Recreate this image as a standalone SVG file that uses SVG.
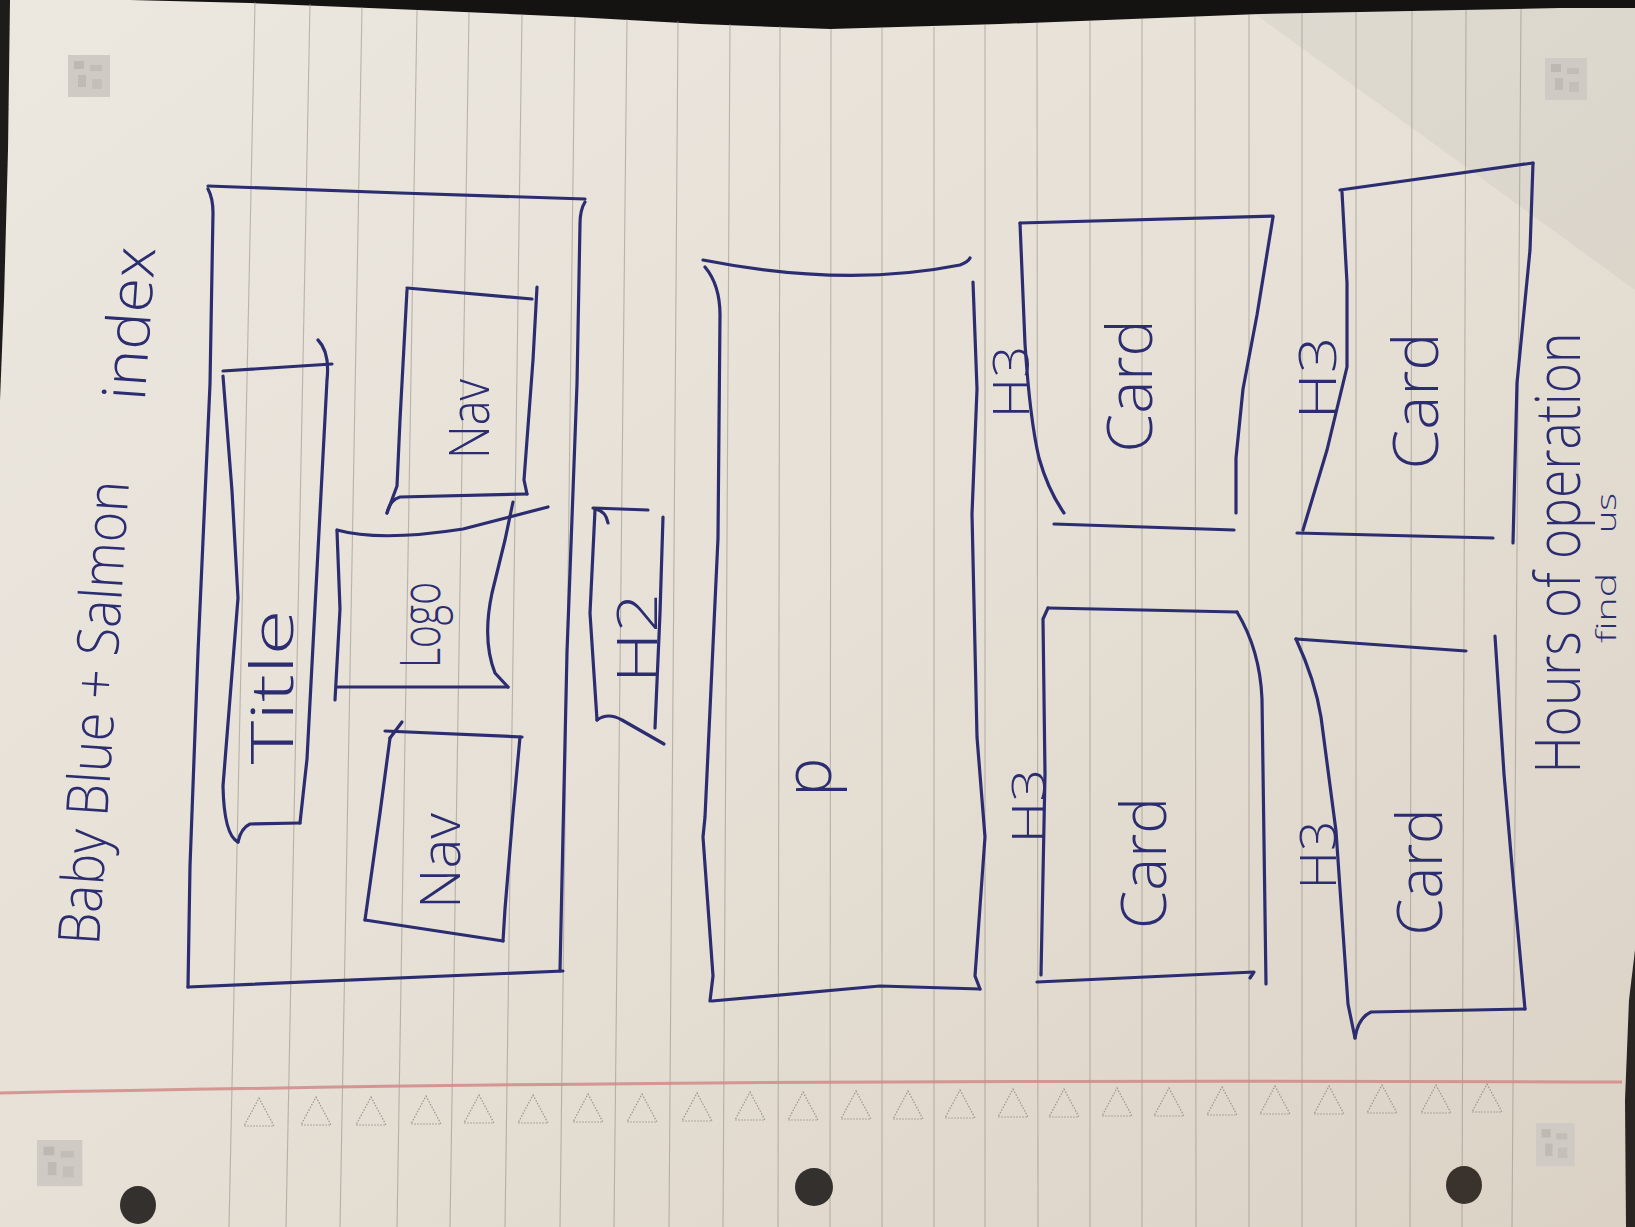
<svg xmlns="http://www.w3.org/2000/svg" width="1635" height="1227" viewBox="0 0 1635 1227">
<defs>
<linearGradient id="paper" x1="0" y1="0" x2="1" y2="1">
<stop offset="0" stop-color="#ece7df"/>
<stop offset="0.5" stop-color="#e6e0d6"/>
<stop offset="1" stop-color="#dbd2c5"/>
</linearGradient>
<g id="qr">
<rect x="0" y="0" width="42" height="42" fill="#cfcac4"/>
<rect x="6" y="6" width="10" height="8" fill="#bdb8b1"/>
<rect x="22" y="10" width="12" height="6" fill="#c2bdb6"/>
<rect x="10" y="20" width="8" height="12" fill="#bfbab3"/>
<rect x="24" y="24" width="10" height="10" fill="#c4bfb8"/>
</g>
</defs>
<style>
.rule{stroke:#8f8a84;stroke-width:1.1;opacity:0.55;fill:none}
.tri{fill:none;stroke:#9c968e;stroke-width:1.2;stroke-dasharray:1.5 1.5}
.ink{fill:none;stroke:#2b2d70;stroke-width:3.2;stroke-linecap:round;stroke-linejoin:round}
.hand{font-family:"Open Sans","DejaVu Sans",sans-serif;font-weight:300;fill:#2b2d70;text-anchor:middle}
</style>

<g id="paper-sheet">
<rect x="0" y="0" width="1635" height="1227" fill="url(#paper)"/>
<path d="M1255,14 L1635,5 L1635,290 Z" fill="#000" opacity="0.035"/>
<path d="M0,0 L1635,0 L1635,8 L1560,8 L1260,14 L1000,24 L830,29 L700,24 L575,17 L418,10 L250,3 L130,0 Z" fill="#141312"/>
<path d="M0,0 L10,0 L8,150 L4,300 L0,400 Z" fill="#1e1c1a"/>
<path d="M1635,950 L1629,1000 L1625,1100 L1626,1227 L1635,1227 Z" fill="#2a2522"/>
<g id="rules">
<line class="rule" x1="255" y1="2" x2="229" y2="1227"/>
<line class="rule" x1="310" y1="4" x2="286" y2="1227"/>
<line class="rule" x1="362" y1="7" x2="340" y2="1227"/>
<line class="rule" x1="417" y1="10" x2="397" y2="1227"/>
<line class="rule" x1="469" y1="12" x2="450" y2="1227"/>
<line class="rule" x1="522" y1="14" x2="505" y2="1227"/>
<line class="rule" x1="575" y1="17" x2="560" y2="1227"/>
<line class="rule" x1="627" y1="19" x2="614" y2="1227"/>
<line class="rule" x1="678" y1="21" x2="669" y2="1227"/>
<line class="rule" x1="730" y1="24" x2="723" y2="1227"/>
<line class="rule" x1="780" y1="26" x2="778" y2="1227"/>
<line class="rule" x1="831" y1="29" x2="830" y2="1227"/>
<line class="rule" x1="882" y1="28" x2="882" y2="1227"/>
<line class="rule" x1="934" y1="27" x2="934" y2="1227"/>
<line class="rule" x1="985" y1="25" x2="985" y2="1227"/>
<line class="rule" x1="1037" y1="23" x2="1038" y2="1227"/>
<line class="rule" x1="1090" y1="21" x2="1090" y2="1227"/>
<line class="rule" x1="1142" y1="19" x2="1142" y2="1227"/>
<line class="rule" x1="1195" y1="17" x2="1196" y2="1227"/>
<line class="rule" x1="1249" y1="15" x2="1249" y2="1227"/>
<line class="rule" x1="1302" y1="13" x2="1302" y2="1227"/>
<line class="rule" x1="1356" y1="12" x2="1356" y2="1227"/>
<line class="rule" x1="1412" y1="11" x2="1410" y2="1227"/>
<line class="rule" x1="1466" y1="10" x2="1462" y2="1227"/>
<line class="rule" x1="1521" y1="9" x2="1512" y2="1227"/>
</g>
<path d="M0,1093 C400,1085 800,1079 1622,1082" fill="none" stroke="#d08a86" stroke-width="3" opacity="0.85"/>
<g id="triangles">
<path class="tri" d="M259,1098 L274,1126 L244,1126 Z"/>
<path class="tri" d="M316,1097 L331,1125 L301,1125 Z"/>
<path class="tri" d="M371,1097 L386,1125 L356,1125 Z"/>
<path class="tri" d="M426,1096 L441,1124 L411,1124 Z"/>
<path class="tri" d="M479,1095 L494,1123 L464,1123 Z"/>
<path class="tri" d="M533,1095 L548,1123 L518,1123 Z"/>
<path class="tri" d="M588,1094 L603,1122 L573,1122 Z"/>
<path class="tri" d="M642,1094 L657,1122 L627,1122 Z"/>
<path class="tri" d="M697,1093 L712,1121 L682,1121 Z"/>
<path class="tri" d="M750,1092 L765,1120 L735,1120 Z"/>
<path class="tri" d="M803,1092 L818,1120 L788,1120 Z"/>
<path class="tri" d="M856,1091 L871,1119 L841,1119 Z"/>
<path class="tri" d="M908,1091 L923,1119 L893,1119 Z"/>
<path class="tri" d="M960,1090 L975,1118 L945,1118 Z"/>
<path class="tri" d="M1013,1089 L1028,1117 L998,1117 Z"/>
<path class="tri" d="M1064,1089 L1079,1117 L1049,1117 Z"/>
<path class="tri" d="M1117,1088 L1132,1116 L1102,1116 Z"/>
<path class="tri" d="M1169,1088 L1184,1116 L1154,1116 Z"/>
<path class="tri" d="M1222,1087 L1237,1115 L1207,1115 Z"/>
<path class="tri" d="M1275,1086 L1290,1114 L1260,1114 Z"/>
<path class="tri" d="M1329,1086 L1344,1114 L1314,1114 Z"/>
<path class="tri" d="M1382,1085 L1397,1113 L1367,1113 Z"/>
<path class="tri" d="M1436,1085 L1451,1113 L1421,1113 Z"/>
<path class="tri" d="M1487,1084 L1502,1112 L1472,1112 Z"/>
</g>
<use href="#qr" transform="translate(68,55)"/>
<use href="#qr" transform="translate(1545,58)"/>
<use href="#qr" transform="translate(37,1140) scale(1.08,1.1)"/>
<use href="#qr" transform="translate(1536,1123) scale(0.92,1.03)"/>
<g id="holes">
<ellipse cx="138" cy="1205" rx="18" ry="19" fill="#34302d"/>
<ellipse cx="814" cy="1187" rx="19" ry="19" fill="#34302d"/>
<ellipse cx="1464" cy="1185" rx="18" ry="19" fill="#3a322c"/>
</g>
</g>

<g id="page-title">
<text class="hand" font-size="58" textLength="465" lengthAdjust="spacingAndGlyphs" transform="translate(114,714) rotate(-86.3)">Baby Blue + Salmon</text>
<text class="hand" font-size="60" textLength="154" lengthAdjust="spacingAndGlyphs" transform="translate(150,325) rotate(-86)">index</text>
</g>

<g id="header">
<path class="ink" d="M208,186 L400,193 L585,199"/>
<path class="ink" d="M585,202 Q580,210 580,224 L577,384 L567,652 L560,971"/>
<path class="ink" d="M563,971 L188,987"/>
<path class="ink" d="M208,189 Q213,198 213,213 L210,384 L198,652 L190,866 L188,987"/>
</g>

<g id="title-box">
<path class="ink" d="M223,371 L332,364"/>
<path class="ink" d="M318,340 Q330,352 327,380 L307,759 L300,823"/>
<path class="ink" d="M300,823 L250,824 Q241,828 238,842"/>
<path class="ink" d="M223,376 L232,491 L238,598 L223,786 Q224,835 238,842"/>
<text class="hand" font-size="58" textLength="155" lengthAdjust="spacingAndGlyphs" transform="translate(293,687) rotate(-90)">Title</text>
</g>

<g id="nav-top">
<path class="ink" d="M407,288 L532,299"/>
<path class="ink" d="M537,287 L533,360 L524,480 L527,494"/>
<path class="ink" d="M527,494 L400,497 Q390,500 387,513"/>
<path class="ink" d="M407,290 L400,420 L397,486 L387,513"/>
<text class="hand" font-size="56" textLength="80" lengthAdjust="spacingAndGlyphs" transform="translate(489,419) rotate(-90)">Nav</text>
</g>

<g id="logo-box">
<path class="ink" d="M337,530 Q380,542 463,529 L548,507"/>
<path class="ink" d="M513,502 L505,540 L492,593 Q482,640 495,673 L508,687"/>
<path class="ink" d="M508,687 L338,687"/>
<path class="ink" d="M337,531 L340,609 L335,700"/>
<text class="hand" font-size="56" textLength="86" lengthAdjust="spacingAndGlyphs" transform="translate(440,625) rotate(-90)">Logo</text>
</g>

<g id="nav-bottom">
<path class="ink" d="M385,731 L522,737"/>
<path class="ink" d="M402,722 L390,738"/>
<path class="ink" d="M520,737 L513,813 L505,909 L503,941"/>
<path class="ink" d="M503,941 L365,920"/>
<path class="ink" d="M390,738 L380,813 L365,920"/>
<text class="hand" font-size="56" textLength="96" lengthAdjust="spacingAndGlyphs" transform="translate(460,861) rotate(-90)">Nav</text>
</g>

<g id="h2-box">
<path class="ink" d="M593,508 L648,510"/>
<path class="ink" d="M595,509 Q606,511 608,523"/>
<path class="ink" d="M663,517 L660,613 L655,728"/>
<path class="ink" d="M597,720 Q608,712 622,720 L664,744"/>
<path class="ink" d="M595,510 L590,613 L597,720"/>
<text class="hand" font-size="56" textLength="90" lengthAdjust="spacingAndGlyphs" transform="translate(657,638) rotate(-90)">H2</text>
</g>

<g id="p-box">
<path class="ink" d="M703,260 Q845,288 960,265 Q968,262 970,258"/>
<path class="ink" d="M973,282 L977,389 L972,514 L977,737 L985,837 L975,976 L980,989"/>
<path class="ink" d="M980,989 L880,986 L712,1001"/>
<path class="ink" d="M705,267 Q720,285 720,315 L718,538 L705,817 L703,837 L713,976 L710,1001"/>
<text class="hand" font-size="66" transform="translate(831,777) rotate(-90)">p</text>
</g>

<g id="card-1">
<path class="ink" d="M1020,223 L1273,216"/>
<path class="ink" d="M1273,217 L1257,315 L1243,389 L1236,458 L1236,513"/>
<path class="ink" d="M1054,524 L1234,530"/>
<path class="ink" d="M1020,223 L1025,344 Q1030,420 1039,458 Q1048,490 1064,513"/>
<text class="hand" font-size="62" textLength="133" lengthAdjust="spacingAndGlyphs" transform="translate(1152,386) rotate(-90)">Card</text>
<text class="hand" font-size="50" textLength="73" lengthAdjust="spacingAndGlyphs" transform="translate(1029,382) rotate(-90)">H3</text>
</g>

<g id="card-2">
<path class="ink" d="M1340,190 L1533,163"/>
<path class="ink" d="M1533,163 L1530,250 L1517,383 L1513,543"/>
<path class="ink" d="M1297,533 L1493,538"/>
<path class="ink" d="M1342,192 L1347,283 L1347,367 L1327,450 L1303,530"/>
<text class="hand" font-size="62" textLength="137" lengthAdjust="spacingAndGlyphs" transform="translate(1438,401) rotate(-90)">Card</text>
<text class="hand" font-size="52" textLength="83" lengthAdjust="spacingAndGlyphs" transform="translate(1336,378) rotate(-90)">H3</text>
</g>

<g id="card-3">
<path class="ink" d="M1048,608 L1237,612"/>
<path class="ink" d="M1237,612 Q1260,650 1262,699 L1266,984"/>
<path class="ink" d="M1037,982 L1254,972 L1250,978"/>
<path class="ink" d="M1048,608 L1043,619 L1045,774 L1041,975"/>
<text class="hand" font-size="62" textLength="132" lengthAdjust="spacingAndGlyphs" transform="translate(1166,863) rotate(-90)">Card</text>
<text class="hand" font-size="46" textLength="75" lengthAdjust="spacingAndGlyphs" transform="translate(1045,806) rotate(-90)">H3</text>
</g>

<g id="card-4">
<path class="ink" d="M1296,639 L1466,651"/>
<path class="ink" d="M1495,636 L1504,774 L1514,889 L1525,1009"/>
<path class="ink" d="M1525,1009 L1371,1012 Q1358,1018 1355,1038"/>
<path class="ink" d="M1296,639 Q1315,680 1321,717 L1336,831 L1348,1004 L1355,1038"/>
<text class="hand" font-size="62" textLength="127" lengthAdjust="spacingAndGlyphs" transform="translate(1442,872) rotate(-90)">Card</text>
<text class="hand" font-size="50" textLength="69" lengthAdjust="spacingAndGlyphs" transform="translate(1336,855) rotate(-90)">H3</text>
</g>

<g id="footer-note">
<text class="hand" font-size="62" textLength="441" lengthAdjust="spacingAndGlyphs" transform="translate(1580,553) rotate(-90)">Hours of operation</text>
<text class="hand" font-size="28" textLength="70" lengthAdjust="spacingAndGlyphs" transform="translate(1616,608) rotate(-90)">find</text>
<text class="hand" font-size="28" textLength="40" lengthAdjust="spacingAndGlyphs" transform="translate(1616,513) rotate(-90)">us</text>
</g>

<g id="connectors"/>
</svg>
